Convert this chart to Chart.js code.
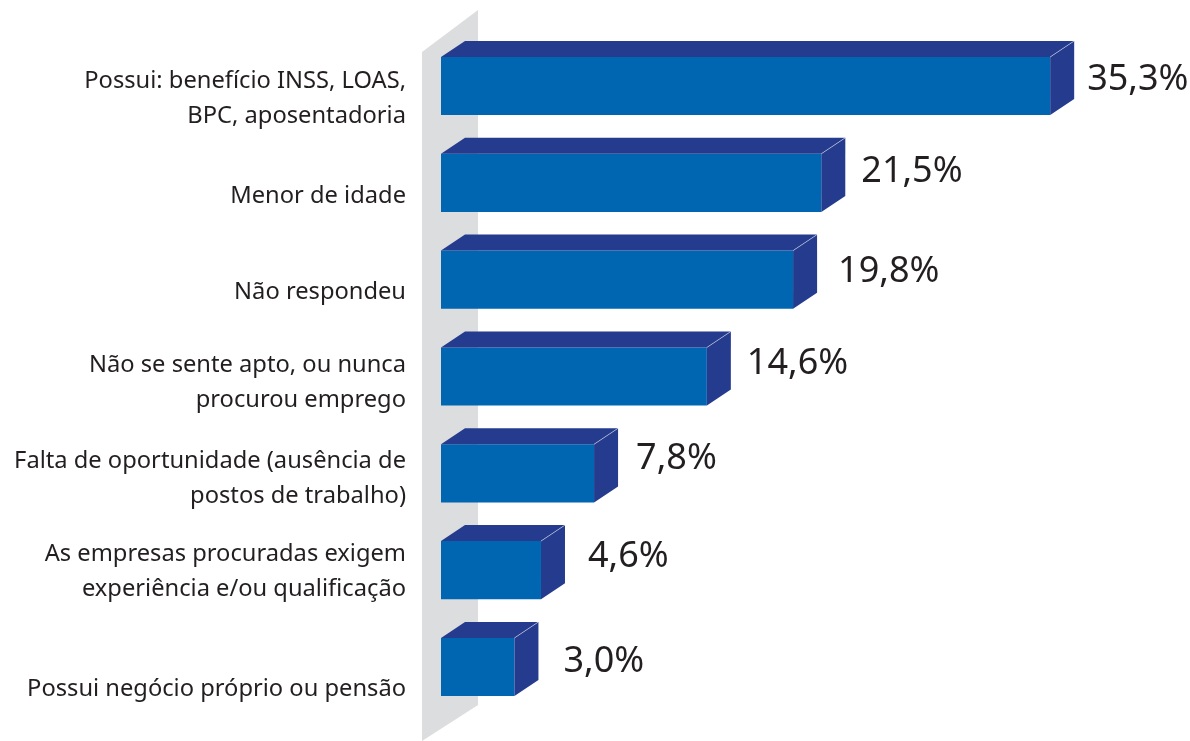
<!DOCTYPE html>
<html lang="pt-BR">
<head>
<meta charset="utf-8">
<title>Motivos</title>
<style>
  html, body { margin: 0; padding: 0; background: #fff; }
  canvas { display: block; }
</style>
<script src="https://cdn.jsdelivr.net/npm/chart.js@4"></script>
</head>
<body>
<canvas id="chart" width="1190" height="741"></canvas>
<script>
const categories = [
  ['Possui: benefício INSS, LOAS,', 'BPC, aposentadoria'],
  'Menor de idade',
  'Não respondeu',
  ['Não se sente apto, ou nunca', 'procurou emprego'],
  ['Falta de oportunidade (ausência de', 'postos de trabalho)'],
  ['As empresas procuradas exigem', 'experiência e/ou qualificação'],
  'Possui negócio próprio ou pensão',
];
const values = [35.3, 21.5, 19.8, 14.6, 7.8, 4.6, 3.0];

// Hand placement of the texts, the source artwork does not centre them on the bars
const tickNudgeY = [13, 13, 13, 6, 5, 2, 22];
const valueNudgeX = [37, 40, 45, 40, 42, 47, 49];
const valueNudgeY = [-6, -11, -8, -13, -15, -13, -5];

const FRONT = '#0066b2';
const SIDE = '#253b8e';
const WALL = '#dcddde';
const TEXT = '#231f20';
const DEPTH_X = 24;
const DEPTH_Y = 16;
const FONT = '"Noto Sans", sans-serif';

function poly(ctx, pts, fill) {
  ctx.beginPath();
  pts.forEach((p, i) => (i ? ctx.lineTo(p[0], p[1]) : ctx.moveTo(p[0], p[1])));
  ctx.closePath();
  ctx.fillStyle = fill;
  ctx.fill();
}

const box3d = {
  id: 'box3d',
  afterUpdate(chart) {
    const items = chart.scales.y.getLabelItems();
    items.forEach((item, i) => { item.options.translation[1] += tickNudgeY[i]; });
  },
  beforeDatasetsDraw(chart) {
    // grey back wall
    const { ctx, chartArea: a } = chart;
    const l = a.left - 19, r = a.left + 37;
    poly(ctx, [[l, 52], [r, 10], [r, 705], [l, 741]], WALL);
  },
  afterDatasetsDraw(chart) {
    const { ctx } = chart;
    chart.getDatasetMeta(0).data.forEach((bar, i) => {
      const top = bar.y - bar.height / 2;
      const bottom = bar.y + bar.height / 2;
      const left = bar.base;
      const right = bar.x;
      poly(ctx, [[left, top], [left + DEPTH_X, top - DEPTH_Y], [right + DEPTH_X, top - DEPTH_Y], [right, top]], SIDE);
      poly(ctx, [[right, top], [right + DEPTH_X, top - DEPTH_Y], [right + DEPTH_X, bottom - DEPTH_Y], [right, bottom]], SIDE);
      ctx.beginPath();
      ctx.moveTo(right, top);
      ctx.lineTo(right + DEPTH_X, top - DEPTH_Y);
      ctx.strokeStyle = 'rgba(255,255,255,0.6)';
      ctx.lineWidth = 0.8;
      ctx.stroke();

      ctx.font = '36px ' + FONT;
      ctx.fillStyle = TEXT;
      ctx.textAlign = 'left';
      ctx.textBaseline = 'middle';
      const label = values[i].toFixed(1).replace('.', ',') + '%';
      ctx.fillText(label, right + valueNudgeX[i], bar.y + valueNudgeY[i]);
    });
  },
};

new Chart(document.getElementById('chart'), {
  type: 'bar',
  data: {
    labels: categories,
    datasets: [{
      data: values,
      base: -1.428,
      backgroundColor: FRONT,
      borderWidth: 0,
      barPercentage: 0.6,
      categoryPercentage: 1,
    }],
  },
  options: {
    indexAxis: 'y',
    responsive: false,
    animation: false,
    layout: { padding: { top: 37.6, bottom: 25.6, left: 0, right: 0 } },
    plugins: { legend: { display: false }, tooltip: { enabled: false } },
    scales: {
      x: { display: false, min: -1.428, max: 43.73, grid: { display: false } },
      y: {
        afterFit(scale) {
          scale.width = 441;
          // the tall two-line labels would otherwise push the bars inward
          scale.paddingTop = 0;
          scale.paddingBottom = 0;
        },
        border: { display: false },
        grid: { display: false, drawTicks: false },
        ticks: {
          autoSkip: false,
          padding: 35,
          color: TEXT,
          font: { family: FONT, size: 23.7, lineHeight: 35 / 23.7 },
        },
      },
    },
  },
  plugins: [box3d],
});
</script>
</body>
</html>
